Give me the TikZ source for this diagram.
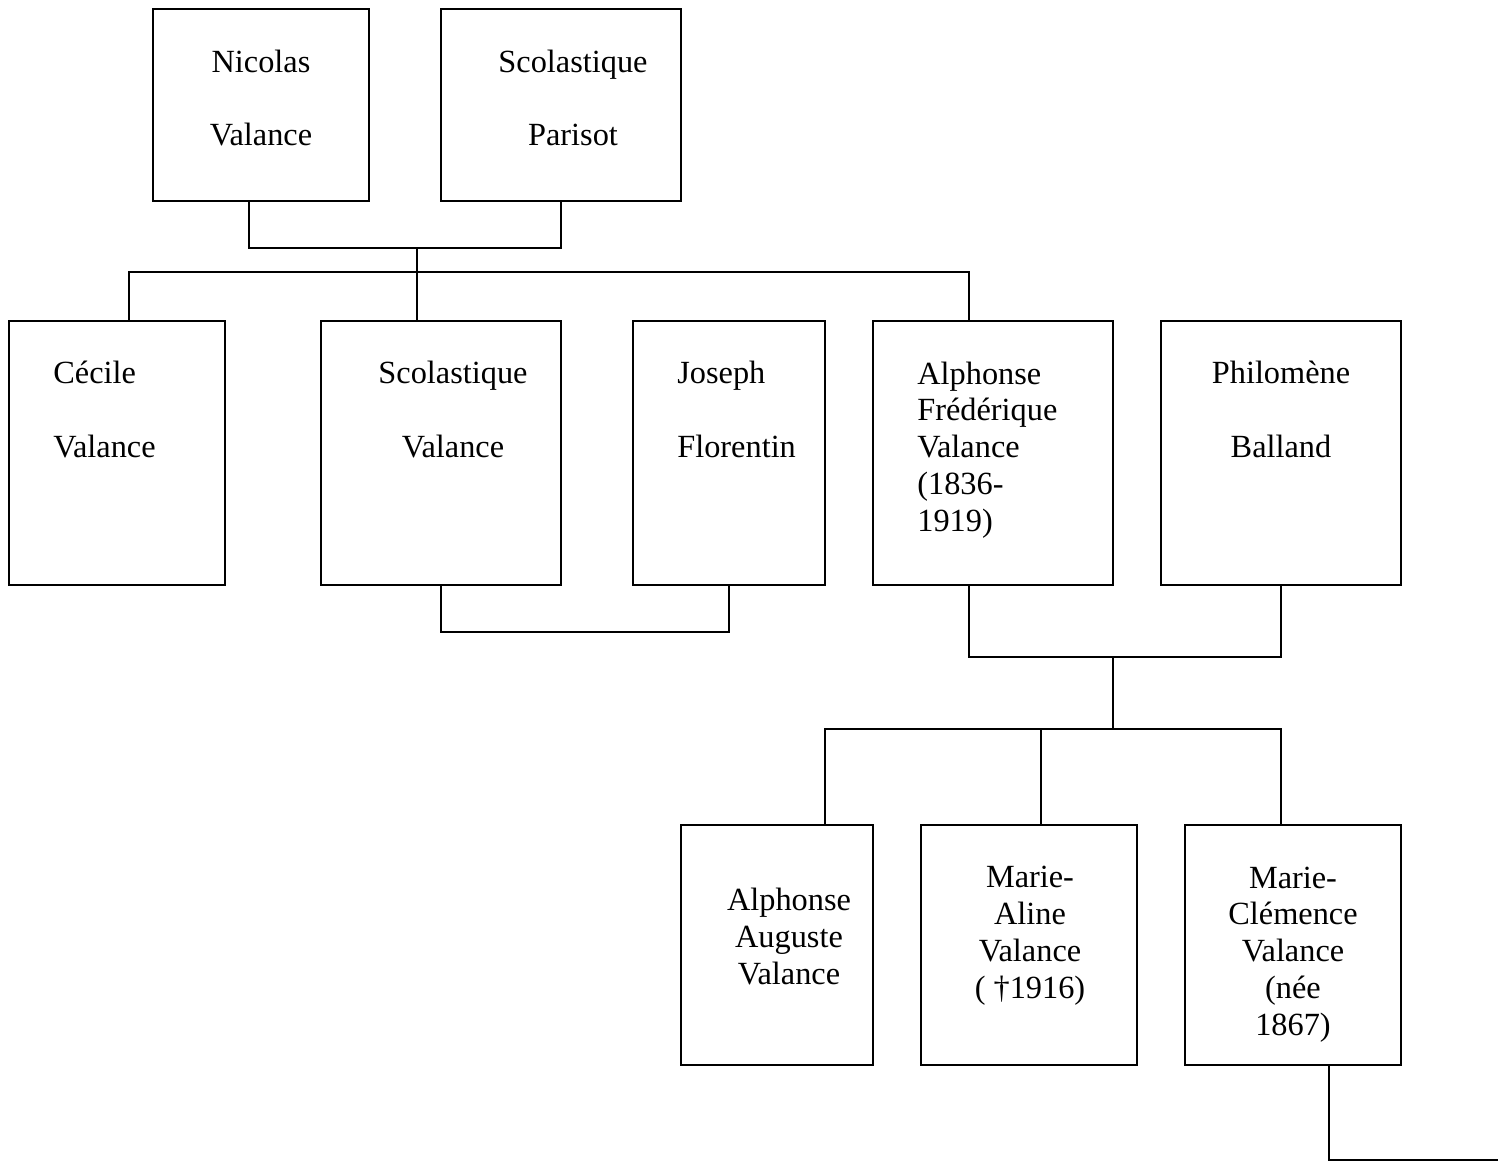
\documentclass[tikz,border=0pt]{standalone}
\usepackage{fontspec}
\setmainfont{Liberation Serif}
\usetikzlibrary{calc}
\tikzset{
  person/.style={draw, line width=1pt, inner sep=0pt, outer sep=0pt},
  link/.style={line width=0.9pt},
  names/.style={inner sep=0pt, align=center, anchor=base, font=\fontsize{18.4}{20.9}\selectfont},
  widenames/.style={names, font=\fontsize{18.4}{41.8}\selectfont},
}
\begin{document}
\begin{tikzpicture}[x=0.02cm, y=-0.02cm]
\useasboundingbox (0,0) rectangle (1498,1162);
% parents
\node[person, minimum width=4.32cm, minimum height=3.84cm] (nicolas) at (261,105) {};
\node[person, minimum width=4.8cm, minimum height=3.84cm] (parisot) at (561,105) {};
\node[widenames] (t-nicolas) at (261,146) {Nicolas\\Valance};
\node[widenames] (t-parisot) at (573,146) {Scolastique\\Parisot};
% children
\node[person, minimum width=4.32cm, minimum height=5.28cm] (cecile) at (117,453) {};
\node[person, minimum width=4.8cm, minimum height=5.28cm] (scolv) at (441,453) {};
\node[person, minimum width=3.84cm, minimum height=5.28cm] (joseph) at (729,453) {};
\node[person, minimum width=4.8cm, minimum height=5.28cm] (alphf) at (993,453) {};
\node[person, minimum width=4.8cm, minimum height=5.28cm] (philo) at (1281,453) {};
\node[widenames, align=left, anchor=base west] (t-cecile) at (53,457) {Cécile\\Valance};
\node[widenames] (t-scolv) at (453,457) {Scolastique\\Valance};
\node[widenames, align=left, anchor=base west] (t-joseph) at (677,457) {Joseph\\Florentin};
\node[names, align=left, anchor=base west] (t-alphf) at (917,531) {Alphonse\\Frédérique\\Valance\\(1836-\\1919)};
\node[widenames] (t-philo) at (1281,457) {Philomène\\Balland};
% grandchildren
\node[person, minimum width=3.84cm, minimum height=4.8cm] (alpha) at (777,945) {};
\node[person, minimum width=4.32cm, minimum height=4.8cm] (marieal) at (1029,945) {};
\node[person, minimum width=4.32cm, minimum height=4.8cm] (mariecl) at (1293,945) {};
\node[names] (t-alpha) at (789,984) {Alphonse\\Auguste\\Valance};
\node[names] (t-marieal) at (1030,998) {Marie-\\Aline\\Valance\\( †1916)};
\node[names] (t-mariecl) at (1293,1035) {Marie-\\Clémence\\Valance\\(née\\1867)};
% connectors
\coordinate (p1) at (417,248);
\coordinate (p2) at (417,272);
\coordinate (p3) at (1113,657);
\coordinate (p4) at (1113,729);
\coordinate (out) at (1498,1160);
\draw[link] ($(nicolas.south)+(-12,0)$) |- (p1) -| (parisot.south);
\draw[link] (p1) -- (p2);
\draw[link] ($(cecile.north)+(12,0)$) |- (p2) -| ($(alphf.north)+(-24,0)$);
\draw[link] (p2) -- (scolv.north -| p2);
\draw[link] (scolv.south) -- ++(0,47) -| (joseph.south);
\draw[link] ($(alphf.south)+(-24,0)$) |- (p3) -| (philo.south);
\draw[link] (p3) -- (p4);
\draw[link] ($(alpha.north)+(48,0)$) |- (p4) -| ($(mariecl.north)+(-12,0)$);
\draw[link] ($(marieal.north)+(12,0)$) |- (p4);
\draw[link] ($(mariecl.south)+(36,0)$) |- (out);
\end{tikzpicture}
\end{document}
